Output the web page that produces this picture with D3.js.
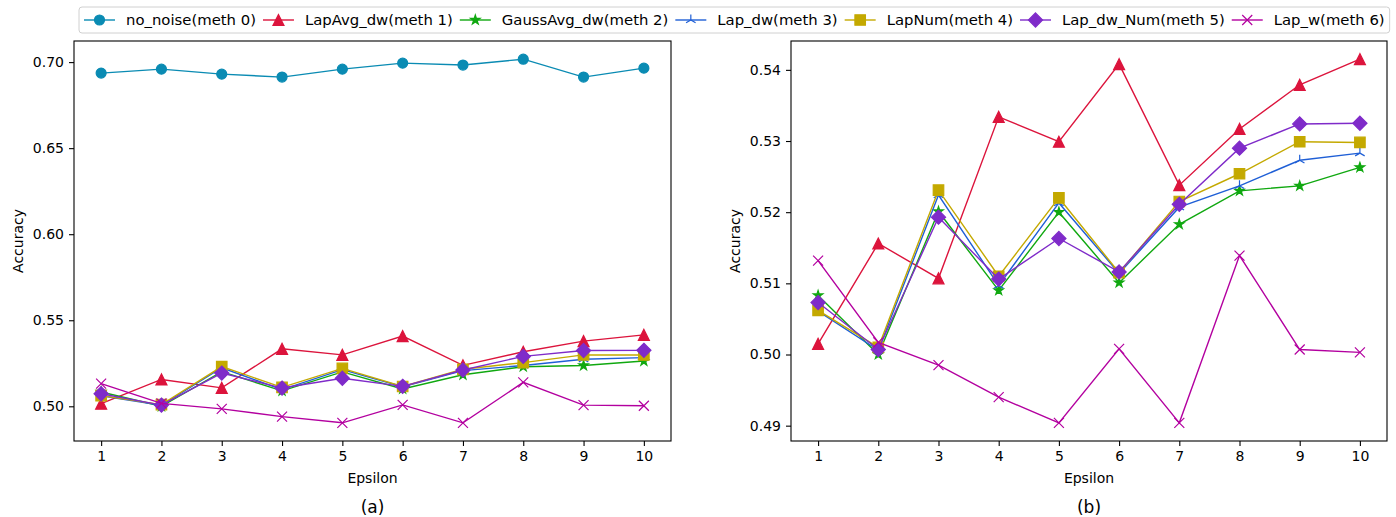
<!DOCTYPE html>
<html>
<head>
<meta charset="utf-8">
<script src="https://cdn.jsdelivr.net/npm/d3@7/dist/d3.min.js"></script>
<style>
  html, body { margin: 0; padding: 0; background: #fff; }
  svg { display: block; font-family: "DejaVu Sans", sans-serif; }
</style>
</head>
<body>
<svg id="chart" width="1396" height="517"></svg>
<script>
// Privacy budget values on the x axis
const epsilon = [1, 2, 3, 4, 5, 6, 7, 8, 9, 10];

// Accuracy per method
const noNoise    = [0.6936, 0.6959, 0.6930, 0.6913, 0.6959, 0.6994, 0.6983, 0.7017, 0.6913, 0.6965];
const lapAvgDw   = [0.5015, 0.5156, 0.5107, 0.5334, 0.5299, 0.5408, 0.5238, 0.5317, 0.5379, 0.5415];
const gaussAvgDw = [0.5083, 0.5000, 0.5201, 0.5090, 0.5200, 0.5101, 0.5183, 0.5230, 0.5237, 0.5263];
const lapDw      = [0.5061, 0.5006, 0.5224, 0.5097, 0.5213, 0.5114, 0.5207, 0.5237, 0.5273, 0.5283];
const lapNum     = [0.5062, 0.5010, 0.5231, 0.5110, 0.5220, 0.5115, 0.5215, 0.5254, 0.5299, 0.5298];
const lapDwNum   = [0.5073, 0.5007, 0.5193, 0.5106, 0.5163, 0.5116, 0.5211, 0.5290, 0.5324, 0.5325];
const lapW       = [0.5132, 0.5017, 0.4985, 0.4940, 0.4904, 0.5008, 0.4904, 0.5139, 0.5007, 0.5003];

const seriesNames = ["no_noise(meth 0)", "LapAvg_dw(meth 1)", "GaussAvg_dw(meth 2)", "Lap_dw(meth 3)",
                     "LapNum(meth 4)", "Lap_dw_Num(meth 5)", "Lap_w(meth 6)"];

// Tick labels of the two accuracy axes
const yTicksA = [0.50, 0.55, 0.60, 0.65, 0.70];
const yTicksB = [0.49, 0.50, 0.51, 0.52, 0.53, 0.54];

const styles = [
  { color: "#0a8bb3", marker: "circle" },
  { color: "#dc143c", marker: "triangle" },
  { color: "#10a810", marker: "star" },
  { color: "#1f5fd6", marker: "tri_up" },
  { color: "#c4a900", marker: "square" },
  { color: "#7f2bc9", marker: "diamond" },
  { color: "#b3009f", marker: "x" }
];

const allSeries = [noNoise, lapAvgDw, gaussAvgDw, lapDw, lapNum, lapDwNum, lapW];

const svg = d3.select("#chart");

// Marker outlines in the style of matplotlib's marker set
function markerPath(type, s) {
  const h = s / 2;
  switch (type) {
    case "circle": {
      const p = d3.path();
      p.arc(0, 0, h, 0, 2 * Math.PI);
      p.closePath();
      return p.toString();
    }
    case "triangle":
      return `M0,${-h}L${-h},${h}L${h},${h}Z`;
    case "square":
      return `M${-h},${-h}L${h},${-h}L${h},${h}L${-h},${h}Z`;
    case "diamond": {
      const d = h * Math.SQRT2;
      return `M0,${-d}L${d},0L0,${d}L${-d},0Z`;
    }
    case "star": {
      const inner = h * 0.381966;
      let str = "";
      for (let i = 0; i < 10; i++) {
        const r = i % 2 === 0 ? h : inner;
        const a = -Math.PI / 2 + i * Math.PI / 5;
        str += (i === 0 ? "M" : "L") + (r * Math.cos(a)).toFixed(2) + "," + (r * Math.sin(a)).toFixed(2);
      }
      return str + "Z";
    }
    case "x":
      return `M${-h},${-h}L${h},${h}M${-h},${h}L${h},${-h}`;
    case "tri_up": {
      const c = h * 0.866, d = h * 0.5;
      return `M0,0L0,${-h}M0,0L${-c},${d}M0,0L${c},${d}`;
    }
  }
  return "";
}

const isFilled = t => !(t === "x" || t === "tri_up");
const markerSize = t => ({ circle: 10, triangle: 11, square: 10.5, diamond: 10, star: 10, x: 10, tri_up: 11 }[t]);

function drawMarker(g, type, color, x, y) {
  g.append("path")
    .attr("d", markerPath(type, markerSize(type)))
    .attr("transform", `translate(${x},${y})`)
    .attr("fill", isFilled(type) ? color : "none")
    .attr("stroke", color)
    .attr("stroke-width", 1.2)
    .attr("stroke-linejoin", "miter");
}

function padDomain(lo, hi) {
  const m = (hi - lo) * 0.05;
  return [lo - m, hi + m];
}

function drawPanel(opts) {
  const { left, top, width, height, seriesIdx, yTicks, caption } = opts;
  const g = svg.append("g").attr("transform", `translate(${left},${top})`);

  const x = d3.scaleLinear().domain(padDomain(d3.min(epsilon), d3.max(epsilon))).range([0, width]);
  const vals = seriesIdx.flatMap(i => allSeries[i]);
  const y = d3.scaleLinear().domain(padDomain(d3.min(vals), d3.max(vals))).range([height, 0]);

  const xAxis = g.append("g").attr("transform", `translate(0,${height})`)
    .call(d3.axisBottom(x).tickValues(epsilon).tickFormat(d3.format("d")).tickSize(5).tickPadding(5));
  const yAxis = g.append("g")
    .call(d3.axisLeft(y).tickValues(yTicks).tickFormat(d3.format(".2f")).tickSize(5).tickPadding(5));
  [xAxis, yAxis].forEach(a => {
    a.select(".domain").remove();
    a.selectAll("line").attr("stroke", "#000").attr("stroke-width", 1.1);
    a.selectAll("text").attr("font-size", 14).attr("fill", "#000").attr("font-family", "DejaVu Sans");
  });

  const line = d3.line().x((d, i) => x(epsilon[i])).y(d => y(d));
  seriesIdx.forEach(i => {
    const st = styles[i];
    const sg = g.append("g");
    sg.append("path").datum(allSeries[i])
      .attr("d", line)
      .attr("fill", "none")
      .attr("stroke", st.color)
      .attr("stroke-width", 1.4);
    allSeries[i].forEach((v, k) => drawMarker(sg, st.marker, st.color, x(epsilon[k]), y(v)));
  });

  g.append("rect").attr("x", 0).attr("y", 0).attr("width", width).attr("height", height)
    .attr("fill", "none").attr("stroke", "#000").attr("stroke-width", 1.1);

  g.append("text").attr("x", width / 2).attr("y", height + 42)
    .attr("text-anchor", "middle").attr("font-size", 14).text("Epsilon");
  g.append("text").attr("transform", `translate(${-51},${height / 2}) rotate(-90)`)
    .attr("text-anchor", "middle").attr("font-size", 14).text("Accuracy");
  g.append("text").attr("x", width / 2).attr("y", height + 72)
    .attr("text-anchor", "middle").attr("font-size", 17).text(caption);
}

drawPanel({ left: 74, top: 41, width: 597, height: 400, seriesIdx: [0, 1, 2, 3, 4, 5, 6], yTicks: yTicksA, caption: "(a)" });
drawPanel({ left: 791, top: 41, width: 596, height: 400, seriesIdx: [1, 2, 3, 4, 5, 6], yTicks: yTicksB, caption: "(b)" });

// Legend row across the top
const legend = svg.append("g");
const box = legend.append("rect")
  .attr("x", 79).attr("y", 7).attr("height", 26).attr("rx", 3)
  .attr("fill", "#fff").attr("stroke", "#d0d0d0").attr("stroke-width", 1);
let cx = 84;
seriesNames.forEach((name, i) => {
  const st = styles[i];
  const eg = legend.append("g");
  eg.append("line").attr("x1", cx).attr("x2", cx + 31).attr("y1", 20).attr("y2", 20)
    .attr("stroke", st.color).attr("stroke-width", 1.4);
  drawMarker(eg, st.marker, st.color, cx + 15.5, 20);
  const t = eg.append("text").attr("x", cx + 42).attr("y", 25).attr("font-size", 14.85).text(name);
  cx += 42 + t.node().getComputedTextLength() + 7;
});
box.attr("width", cx - 79 - 2);
</script>
</body>
</html>
